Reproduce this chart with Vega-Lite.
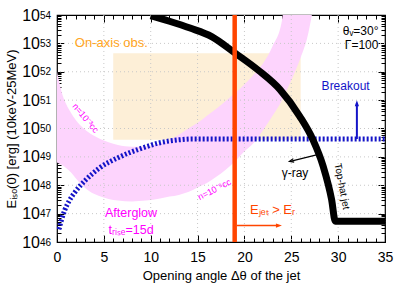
{
  "$schema": "https://vega.github.io/schema/vega-lite/v6.json",
  "width": 328,
  "height": 227,
  "autosize": {"type": "none"},
  "padding": {"left": 57, "top": 15, "right": 24, "bottom": 44},
  "background": "white",
  "config": {
    "font": "Liberation Sans",
    "view": {"stroke": "black", "strokeWidth": 1.2},
    "axis": {"tickColor": "black", "labelColor": "black", "titleColor": "black", "zindex": 1, "domain": false, "grid": false, "labelFont": "Liberation Sans", "titleFont": "Liberation Sans"}
  },
  "datasets": {
    "box": [{"deg": 6, "deg2": 26, "E": 3.98e49, "E2": 4.47e52}],
    "band": [
      {"deg": 0, "E": 6.31e48, "E2": 1e52},
      {"deg": 0.3, "E": 5.62e48, "E2": 3.55e51},
      {"deg": 0.5, "E": 5.25e48, "E2": 1.91e51},
      {"deg": 1, "E": 3.98e48, "E2": 7.08e50},
      {"deg": 1.5, "E": 2.82e48, "E2": 3.55e50},
      {"deg": 2, "E": 1.78e48, "E2": 2.0e50},
      {"deg": 2.76, "E": 9.33e47, "E2": 1.07e50},
      {"deg": 3.5, "E": 6.03e47, "E2": 6.76e49},
      {"deg": 4.5, "E": 4.17e47, "E2": 4.47e49},
      {"deg": 5.5, "E": 3.31e47, "E2": 3.31e49},
      {"deg": 6.5, "E": 2.88e47, "E2": 2.63e49},
      {"deg": 8, "E": 2.69e47, "E2": 2.29e49},
      {"deg": 9.5, "E": 2.88e47, "E2": 2.34e49},
      {"deg": 11, "E": 3.39e47, "E2": 3.02e49},
      {"deg": 12, "E": 3.98e47, "E2": 3.98e49},
      {"deg": 13, "E": 4.57e47, "E2": 6.03e49},
      {"deg": 14, "E": 5.75e47, "E2": 1e50},
      {"deg": 15, "E": 8.32e47, "E2": 1.58e50},
      {"deg": 16, "E": 1.2e48, "E2": 2.82e50},
      {"deg": 17, "E": 2.0e48, "E2": 5.01e50},
      {"deg": 18, "E": 3.55e48, "E2": 9.33e50},
      {"deg": 19, "E": 7.08e48, "E2": 1.78e51},
      {"deg": 20, "E": 1.58e49, "E2": 3.55e51},
      {"deg": 21, "E": 3.16e49, "E2": 7.94e51},
      {"deg": 22, "E": 8.91e49, "E2": 2.0e52},
      {"deg": 23, "E": 2.82e50, "E2": 7.94e52},
      {"deg": 24, "E": 1e51, "E2": 6.31e53},
      {"deg": 24.1, "E": 1.17e51, "E2": 1e54},
      {"deg": 25, "E": 5.01e51, "E2": 1e54},
      {"deg": 26, "E": 3.16e52, "E2": 1e54},
      {"deg": 26.7, "E": 1.58e53, "E2": 1e54},
      {"deg": 27.2, "E": 1e54, "E2": 1e54}
    ],
    "gridx": [{"deg": 5}, {"deg": 10}, {"deg": 15}, {"deg": 20}, {"deg": 25}, {"deg": 30}],
    "gridy": [{"E": 1e47}, {"E": 1e48}, {"E": 1e49}, {"E": 1e50}, {"E": 1e51}, {"E": 1e52}, {"E": 1e53}],
    "jet": [
      {"deg": 10, "E": 9.5e53},
      {"deg": 12, "E": 6.03e53},
      {"deg": 14.2, "E": 3.47e53},
      {"deg": 16.5, "E": 1.74e53},
      {"deg": 19, "E": 4.57e52},
      {"deg": 21.5, "E": 1.12e52},
      {"deg": 23.8, "E": 2.34e51},
      {"deg": 25.9, "E": 2.69e50},
      {"deg": 27.3, "E": 4.07e49},
      {"deg": 28.4, "E": 4.68e48},
      {"deg": 29.3, "E": 3.16e47},
      {"deg": 29.7, "E": 5.37e46},
      {"deg": 35, "E": 5.37e46}
    ],
    "breakout": [
      {"deg": 0.2, "E": 2.82e46},
      {"deg": 0.5, "E": 6.31e46},
      {"deg": 0.8, "E": 1.26e47},
      {"deg": 1.3, "E": 2.82e47},
      {"deg": 1.9, "E": 5.62e47},
      {"deg": 3.1, "E": 1.58e48},
      {"deg": 4.5, "E": 3.98e48},
      {"deg": 6.7, "E": 1e49},
      {"deg": 9, "E": 2e49},
      {"deg": 11, "E": 3.16e49},
      {"deg": 13, "E": 3.98e49},
      {"deg": 14.5, "E": 4.27e49},
      {"deg": 35, "E": 4.27e49}
    ],
    "red": [{"deg": 18.96}],
    "ejetArrow": [{"deg": 19.2, "deg2": 23.6, "E": 3.8e46}],
    "ejetHead": [{"deg": 24.0, "E": 3.8e46}],
    "boArrow": [{"deg": 32, "E": 4.27e49, "E2": 8e50}],
    "boHead": [{"deg": 32, "E": 1e51}],
    "gArrow": [{"deg": 27.8, "E": 1.2e49, "deg2": 25.0, "E2": 7.1e48}],
    "gHead": [{"deg": 24.8, "E": 6.9e48}],
    "tOnaxis": [{"deg": 5.8, "E": 1.02e53, "text": "On-axis obs."}],
    "tParams": [{"deg": 34.3, "E": 2.7e53, "text": "θᵥ=30°"}, {"deg": 34.3, "E": 8.9e52, "text": "Γ=100"}],
    "tBreakout": [{"deg": 30.8, "E": 3.09e51, "text": "Breakout"}],
    "tGamma": [{"deg": 25.4, "E": 2.75e48, "text": "γ-ray"}],
    "tTophat": [{"deg": 30.4, "E": 9.1e47, "text": "Top-hat jet"}],
    "tN3": [{"deg": 3.05, "E": 2.34e50, "text": "n=10⁻³cc"}],
    "tN5": [{"deg": 16.8, "E": 7.08e47, "text": "n=10⁻⁵cc"}],
    "tAfter": [{"deg": 7.9, "E": 1.05e47, "text": "Afterglow"}, {"deg": 7.9, "E": 2.7e46, "text": "tᵣᵢₛₑ=15d"}],
    "tEjet": [{"deg": 20.6, "E": 1.38e47, "text": "Eⱼₑₜ > Eᵣ"}]
  },
  "resolve": {"axis": {"x": "independent", "y": "independent"}},
  "layer": [
    {
      "data": {"name": "box"},
      "mark": {"type": "rect", "color": "#fdefd7"},
      "encoding": {
        "x": {"field": "deg", "type": "quantitative", "scale": {"domain": [0, 35], "nice": false, "zero": false},
          "axis": {"orient": "bottom", "values": [0, 5, 10, 15, 20, 25, 30, 35], "tickSize": -7, "labelPadding": 15, "labelFontSize": 14, "labelFlush": false, "labelOverlap": false, "title": "Opening angle Δθ of the jet", "titleFontSize": 13, "titleFontWeight": "normal", "titlePadding": 5}},
        "x2": {"field": "deg2"},
        "y": {"field": "E", "type": "quantitative", "scale": {"type": "log", "domain": [1e46, 1e54], "nice": false},
          "axis": {"orient": "left", "values": [1e46, 1e47, 1e48, 1e49, 1e50, 1e51, 1e52, 1e53, 1e54], "tickSize": -7, "labelPadding": 24.5, "labelFontSize": 16, "labelDy": 2, "labelOverlap": false, "labelExpr": "'10'", "title": "Eᵢₛₒ(0) [erg] (10keV-25MeV)", "titleFontSize": 13, "titleFontWeight": "normal", "titlePadding": 3}},
        "y2": {"field": "E2"}
      }
    },
    {
      "data": {"name": "band"},
      "mark": {"type": "area", "color": "#fdd4fd", "interpolate": "monotone", "clip": true},
      "encoding": {
        "x": {"field": "deg", "type": "quantitative", "scale": {"domain": [0, 35], "nice": false, "zero": false},
          "axis": {"orient": "top", "values": [0, 5, 10, 15, 20, 25, 30, 35], "tickSize": -7, "labels": false, "title": null}},
        "y": {"field": "E", "type": "quantitative", "scale": {"type": "log", "domain": [1e46, 1e54], "nice": false},
          "axis": {"orient": "right", "values": [1e46, 1e47, 1e48, 1e49, 1e50, 1e51, 1e52, 1e53, 1e54], "tickSize": -7, "labels": false, "title": null}},
        "y2": {"field": "E2"}
      }
    },
    {
      "data": {"name": "gridx"},
      "mark": {"type": "rule", "color": "#c8c8c8", "strokeDash": [1, 3], "strokeWidth": 1},
      "encoding": {
        "x": {"field": "deg", "type": "quantitative", "scale": {"domain": [0, 35], "nice": false, "zero": false},
          "axis": {"orient": "bottom", "values": [0,1,2,3,4,5,6,7,8,9,10,11,12,13,14,15,16,17,18,19,20,21,22,23,24,25,26,27,28,29,30,31,32,33,34,35], "tickSize": -4, "labels": false, "title": null}}
      }
    },
    {
      "data": {"name": "gridy"},
      "mark": {"type": "rule", "color": "#c8c8c8", "strokeDash": [1, 3], "strokeWidth": 1},
      "encoding": {
        "y": {"field": "E", "type": "quantitative", "scale": {"type": "log", "domain": [1e46, 1e54], "nice": false},
          "axis": {"orient": "left", "values": [2e46,3e46,4e46,5e46,6e46,7e46,8e46,9e46,2e47,3e47,4e47,5e47,6e47,7e47,8e47,9e47,2e48,3e48,4e48,5e48,6e48,7e48,8e48,9e48,2e49,3e49,4e49,5e49,6e49,7e49,8e49,9e49,2e50,3e50,4e50,5e50,6e50,7e50,8e50,9e50,2e51,3e51,4e51,5e51,6e51,7e51,8e51,9e51,2e52,3e52,4e52,5e52,6e52,7e52,8e52,9e52,2e53,3e53,4e53,5e53,6e53,7e53,8e53,9e53], "tickSize": -4, "labels": false, "title": null}}
      }
    },
    {
      "data": {"name": "breakout"},
      "mark": {"type": "line", "color": "#1414c8", "strokeWidth": 5, "strokeDash": [2, 2], "interpolate": "monotone", "clip": true},
      "encoding": {
        "x": {"field": "deg", "type": "quantitative", "scale": {"domain": [0, 35], "nice": false, "zero": false},
          "axis": {"orient": "top", "values": [0,1,2,3,4,5,6,7,8,9,10,11,12,13,14,15,16,17,18,19,20,21,22,23,24,25,26,27,28,29,30,31,32,33,34,35], "tickSize": -4, "labels": false, "title": null}},
        "y": {"field": "E", "type": "quantitative", "scale": {"type": "log", "domain": [1e46, 1e54], "nice": false},
          "axis": {"orient": "right", "values": [2e46,3e46,4e46,5e46,6e46,7e46,8e46,9e46,2e47,3e47,4e47,5e47,6e47,7e47,8e47,9e47,2e48,3e48,4e48,5e48,6e48,7e48,8e48,9e48,2e49,3e49,4e49,5e49,6e49,7e49,8e49,9e49,2e50,3e50,4e50,5e50,6e50,7e50,8e50,9e50,2e51,3e51,4e51,5e51,6e51,7e51,8e51,9e51,2e52,3e52,4e52,5e52,6e52,7e52,8e52,9e52,2e53,3e53,4e53,5e53,6e53,7e53,8e53,9e53], "tickSize": -4, "labels": false, "title": null}}
      }
    },
    {
      "data": {"name": "jet"},
      "mark": {"type": "line", "color": "black", "strokeWidth": 7, "interpolate": "monotone", "clip": true},
      "encoding": {
        "x": {"field": "deg", "type": "quantitative", "axis": null},
        "y": {"field": "E", "type": "quantitative", "axis": null}
      }
    },
    {
      "data": {"name": "red"},
      "mark": {"type": "rule", "color": "#ff4500", "strokeWidth": 4.5},
      "encoding": {"x": {"field": "deg", "type": "quantitative", "axis": null}}
    },
    {
      "data": {"name": "ejetArrow"},
      "mark": {"type": "rule", "color": "#ff4500", "strokeWidth": 1.5},
      "encoding": {
        "x": {"field": "deg", "type": "quantitative", "axis": null},
        "x2": {"field": "deg2"},
        "y": {"field": "E", "type": "quantitative", "axis": null}
      }
    },
    {
      "data": {"name": "ejetHead"},
      "mark": {"type": "point", "shape": "M-2,-0.7L0,0L-2,0.7Z", "filled": true, "color": "#ff4500", "size": 36, "opacity": 1},
      "encoding": {
        "x": {"field": "deg", "type": "quantitative", "axis": null},
        "y": {"field": "E", "type": "quantitative", "axis": null}
      }
    },
    {
      "data": {"name": "boArrow"},
      "mark": {"type": "rule", "color": "#1414c8", "strokeWidth": 2},
      "encoding": {
        "x": {"field": "deg", "type": "quantitative", "axis": null},
        "y": {"field": "E", "type": "quantitative", "axis": null},
        "y2": {"field": "E2"}
      }
    },
    {
      "data": {"name": "boHead"},
      "mark": {"type": "point", "shape": "M-2,-0.7L0,0L-2,0.7Z", "filled": true, "color": "#1414c8", "size": 36, "angle": 270, "opacity": 1},
      "encoding": {
        "x": {"field": "deg", "type": "quantitative", "axis": null},
        "y": {"field": "E", "type": "quantitative", "axis": null}
      }
    },
    {
      "data": {"name": "gArrow"},
      "mark": {"type": "rule", "color": "black", "strokeWidth": 1.2},
      "encoding": {
        "x": {"field": "deg", "type": "quantitative", "axis": null},
        "x2": {"field": "deg2"},
        "y": {"field": "E", "type": "quantitative", "axis": null},
        "y2": {"field": "E2"}
      }
    },
    {
      "data": {"name": "gHead"},
      "mark": {"type": "point", "shape": "M-2,-0.8L0,0L-2,0.8", "filled": false, "color": "black", "strokeWidth": 1.2, "size": 20, "angle": 166, "opacity": 1},
      "encoding": {
        "x": {"field": "deg", "type": "quantitative", "axis": null},
        "y": {"field": "E", "type": "quantitative", "axis": null}
      }
    },
    {
      "data": {"name": "tOnaxis"},
      "mark": {"type": "text", "color": "#ffa522", "fontSize": 13, "align": "center", "baseline": "middle"},
      "encoding": {
        "x": {"field": "deg", "type": "quantitative", "axis": null},
        "y": {"field": "E", "type": "quantitative", "scale": {"type": "log", "domain": [1e46, 1e54], "nice": false},
          "axis": {"orient": "left", "values": [1e46, 1e47, 1e48, 1e49, 1e50, 1e51, 1e52, 1e53, 1e54], "ticks": false, "labelPadding": 17.5, "labelAlign": "left", "labelBaseline": "middle", "labelFontSize": 10, "labelDy": -3, "labelOverlap": false, "labelExpr": "format(round(log(datum.value)/LN10),'d')", "title": null}},
        "text": {"field": "text"}
      }
    },
    {
      "data": {"name": "tParams"},
      "mark": {"type": "text", "color": "black", "fontSize": 12, "align": "right", "baseline": "middle"},
      "encoding": {
        "x": {"field": "deg", "type": "quantitative", "axis": null},
        "y": {"field": "E", "type": "quantitative", "axis": null},
        "text": {"field": "text"}
      }
    },
    {
      "data": {"name": "tBreakout"},
      "mark": {"type": "text", "color": "#1414c8", "fontSize": 12, "align": "center", "baseline": "middle"},
      "encoding": {
        "x": {"field": "deg", "type": "quantitative", "axis": null},
        "y": {"field": "E", "type": "quantitative", "axis": null},
        "text": {"field": "text"}
      }
    },
    {
      "data": {"name": "tGamma"},
      "mark": {"type": "text", "color": "black", "fontSize": 12, "align": "center", "baseline": "middle"},
      "encoding": {
        "x": {"field": "deg", "type": "quantitative", "axis": null},
        "y": {"field": "E", "type": "quantitative", "axis": null},
        "text": {"field": "text"}
      }
    },
    {
      "data": {"name": "tTophat"},
      "mark": {"type": "text", "color": "black", "fontSize": 10, "align": "center", "baseline": "middle", "angle": 79},
      "encoding": {
        "x": {"field": "deg", "type": "quantitative", "axis": null},
        "y": {"field": "E", "type": "quantitative", "axis": null},
        "text": {"field": "text"}
      }
    },
    {
      "data": {"name": "tN3"},
      "mark": {"type": "text", "color": "#ff00ff", "fontSize": 9, "align": "center", "baseline": "middle", "angle": 50},
      "encoding": {
        "x": {"field": "deg", "type": "quantitative", "axis": null},
        "y": {"field": "E", "type": "quantitative", "axis": null},
        "text": {"field": "text"}
      }
    },
    {
      "data": {"name": "tN5"},
      "mark": {"type": "text", "color": "#ff00ff", "fontSize": 9, "align": "center", "baseline": "middle", "angle": 333},
      "encoding": {
        "x": {"field": "deg", "type": "quantitative", "axis": null},
        "y": {"field": "E", "type": "quantitative", "axis": null},
        "text": {"field": "text"}
      }
    },
    {
      "data": {"name": "tAfter"},
      "mark": {"type": "text", "color": "#ff00ff", "fontSize": 12.5, "align": "center", "baseline": "middle"},
      "encoding": {
        "x": {"field": "deg", "type": "quantitative", "axis": null},
        "y": {"field": "E", "type": "quantitative", "axis": null},
        "text": {"field": "text"}
      }
    },
    {
      "data": {"name": "tEjet"},
      "mark": {"type": "text", "color": "#ff4500", "fontSize": 13, "align": "left", "baseline": "middle"},
      "encoding": {
        "x": {"field": "deg", "type": "quantitative", "axis": null},
        "y": {"field": "E", "type": "quantitative", "axis": null},
        "text": {"field": "text"}
      }
    }
  ]
}
